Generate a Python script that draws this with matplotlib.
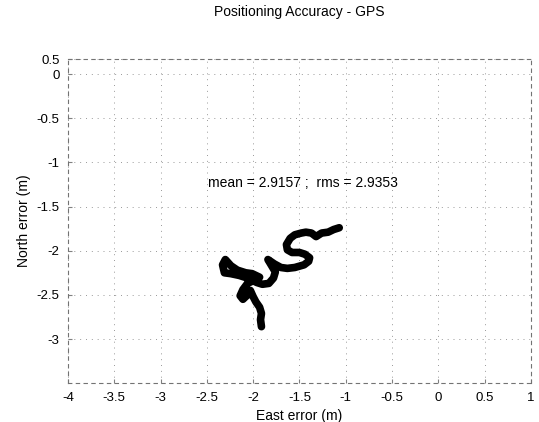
import numpy as np
from matplotlib import pyplot as plt

plt.rcParams['font.family'] = ['Liberation Sans', 'DejaVu Sans']

# trajectory of the GPS position error (m)
east = [-1.07, -1.13, -1.19, -1.26, -1.32, -1.37, -1.43, -1.48, -1.55, -1.60,
        -1.64, -1.63, -1.58, -1.50, -1.44, -1.39, -1.40, -1.45, -1.55, -1.63,
        -1.70, -1.77, -1.84, -1.80, -1.76, -1.78, -1.83, -1.90, -1.96, -2.06,
        -2.15, -2.24, -2.31, -2.33, -2.30, -2.24, -2.17, -2.08, -2.01, -1.93,
        -1.98, -2.06, -2.11, -2.14, -2.11, -2.06, -2.03, -2.00, -1.97, -1.93,
        -1.91, -1.92, -1.91]
north = [-1.74, -1.76, -1.79, -1.80, -1.84, -1.80, -1.79, -1.80, -1.82, -1.86,
         -1.93, -1.99, -2.02, -2.02, -2.04, -2.08, -2.12, -2.16, -2.19, -2.20,
         -2.19, -2.15, -2.10, -2.17, -2.24, -2.31, -2.37, -2.38, -2.36, -2.31,
         -2.28, -2.26, -2.25, -2.16, -2.10, -2.17, -2.22, -2.25, -2.26, -2.30,
         -2.33, -2.37, -2.44, -2.51, -2.55, -2.50, -2.45, -2.52, -2.58, -2.64,
         -2.71, -2.78, -2.86]

xticks = [-4, -3.5, -3, -2.5, -2, -1.5, -1, -0.5, 0, 0.5, 1]
xticklabels = ['-4', '-3.5', '-3', '-2.5', '-2', '-1.5', '-1', '-0.5', '0', '0.5', '1']
yticks = [-3, -2.5, -2, -1.5, -1, -0.5, 0, 0.17]
yticklabels = ['-3', '-2.5', '-2', '-1.5', '-1', '-0.5', '0', '0.5']

mean_err = 2.9157
rms_err = 2.9353

fig = plt.figure(figsize=(5.39, 4.22), dpi=100)
ax = fig.add_axes([0.126, 0.092, 0.859, 0.768])

ax.plot(east, north, color='k', lw=5.5, solid_capstyle='round', solid_joinstyle='round')

ax.set_xlim(-4, 1)
ax.set_ylim(-3.5, 0.17)
ax.set_xticks(xticks)
ax.set_xticklabels(xticklabels)
ax.set_yticks(yticks)
ax.set_yticklabels(yticklabels)
ax.tick_params(direction='in', length=3, labelsize=9.5, color='0.5', pad=6)

ax.grid(True, linestyle=(0, (1, 5)), color='0.6', lw=0.7)
for side in ['left', 'right', 'top', 'bottom']:
    ax.spines[side].set_linestyle((0, (3, 4)))
    ax.spines[side].set_color('0.45')
    ax.spines[side].set_linewidth(0.8)

ax.set_title('Positioning Accuracy - GPS', fontsize=10, pad=31)
ax.set_xlabel('East error (m)', fontsize=10)
ax.set_ylabel('North error (m)', fontsize=10)

ax.text(-2.49, -1.23, 'mean = %.4f ;  rms = %.4f' % (mean_err, rms_err),
        fontsize=10, ha='left', va='center')

fig.savefig('out.png', dpi=100)
